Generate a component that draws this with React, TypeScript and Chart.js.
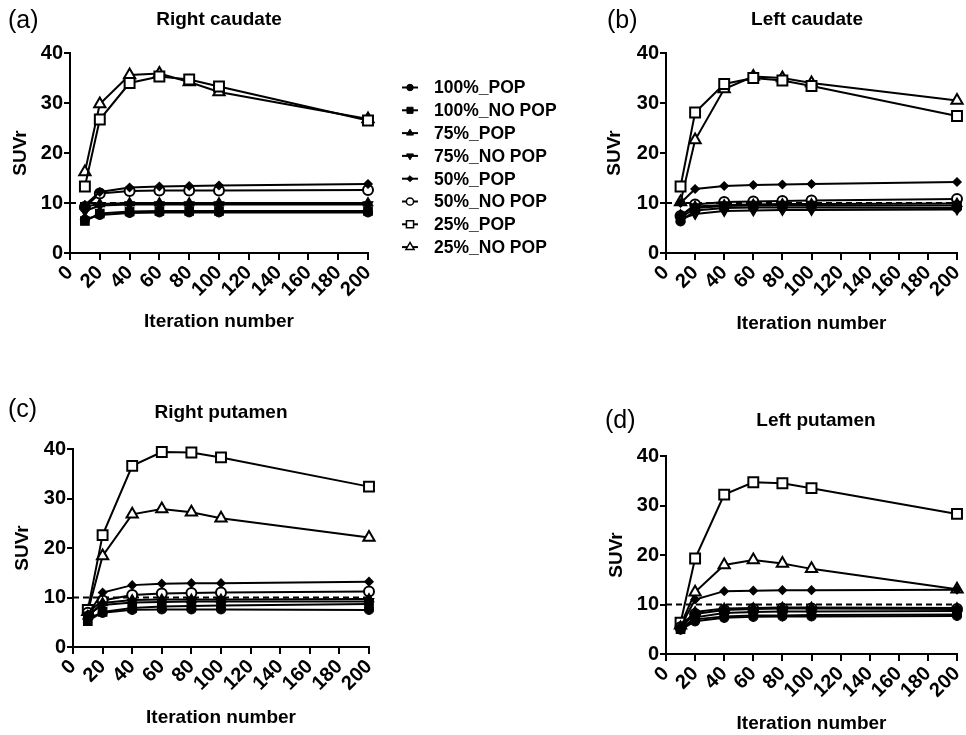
import React, { useEffect, useRef } from "react";
import { Chart, registerables } from "chart.js";
import { drawPoint } from "chart.js/helpers";

Chart.register(...registerables);

// ---------- data ----------
const ITERATIONS = [10, 20, 40, 60, 80, 100, 200];
const SERIES_NAMES = [
  "100%_POP",
  "100%_NO POP",
  "75%_POP",
  "75%_NO POP",
  "50%_POP",
  "50%_NO POP",
  "25%_POP",
  "25%_NO POP",
];
const REFERENCE_LEVEL = 10;
const X_MIN = 0;
const X_MAX = 200;
const X_STEP = 20;
const Y_MIN = 0;
const Y_MAX = 40;
const Y_STEP = 10;

// (a) Right caudate
const RC_100_POP = [6.7, 7.6, 8.0, 8.1, 8.1, 8.1, 8.1];
const RC_100_NOPOP = [6.4, 7.9, 8.3, 8.4, 8.4, 8.4, 8.4];
const RC_75_POP = [9.3, 9.8, 10.0, 10.0, 10.0, 10.0, 10.0];
const RC_75_NOPOP = [8.4, 9.5, 9.7, 9.7, 9.7, 9.7, 9.7];
const RC_50_POP = [9.6, 12.2, 13.1, 13.3, 13.4, 13.5, 13.8];
const RC_50_NOPOP = [9.2, 11.9, 12.4, 12.5, 12.5, 12.5, 12.6];
const RC_25_POP = [13.3, 26.7, 34.0, 35.3, 34.7, 33.3, 26.5];
const RC_25_NOPOP = [16.2, 29.8, 35.6, 35.9, 34.2, 32.2, 26.8];

// (b) Left caudate
const LC_100_POP = [6.3, 8.5, 9.0, 9.1, 9.1, 9.1, 9.0];
const LC_100_NOPOP = [7.0, 9.0, 9.4, 9.5, 9.5, 9.5, 9.5];
const LC_75_POP = [7.6, 9.3, 9.6, 9.7, 9.8, 9.8, 9.9];
const LC_75_NOPOP = [6.8, 7.8, 8.4, 8.5, 8.6, 8.6, 8.7];
const LC_50_POP = [10.0, 12.8, 13.4, 13.6, 13.7, 13.8, 14.2];
const LC_50_NOPOP = [7.4, 9.7, 10.2, 10.3, 10.4, 10.5, 10.8];
const LC_25_POP = [13.3, 28.1, 33.8, 35.0, 34.5, 33.4, 27.4];
const LC_25_NOPOP = [10.2, 22.6, 32.8, 35.3, 35.0, 34.0, 30.5];

// (c) Right putamen
const RP_100_POP = [5.8, 6.9, 7.5, 7.6, 7.6, 7.6, 7.5];
const RP_100_NOPOP = [5.2, 7.1, 7.9, 8.2, 8.3, 8.4, 8.7];
const RP_75_POP = [6.2, 8.9, 9.5, 9.6, 9.6, 9.6, 9.7];
const RP_75_NOPOP = [6.5, 8.5, 9.0, 9.1, 9.2, 9.2, 9.2];
const RP_50_POP = [6.6, 11.0, 12.5, 12.8, 12.9, 12.9, 13.2];
const RP_50_NOPOP = [6.9, 9.4, 10.5, 10.8, 10.9, 11.0, 11.2];
const RP_25_POP = [7.5, 22.6, 36.6, 39.4, 39.3, 38.3, 32.4];
const RP_25_NOPOP = [7.1, 18.4, 26.8, 27.9, 27.2, 26.0, 22.1];

// (d) Left putamen
const LP_100_POP = [4.9, 6.6, 7.3, 7.5, 7.6, 7.6, 7.7];
const LP_100_NOPOP = [5.0, 7.4, 8.3, 8.5, 8.6, 8.6, 8.7];
const LP_75_POP = [5.6, 8.5, 9.2, 9.3, 9.4, 9.4, 9.3];
const LP_75_NOPOP = [5.2, 7.0, 7.6, 7.8, 7.8, 7.9, 8.0];
const LP_50_POP = [5.5, 11.0, 12.7, 12.8, 12.9, 12.9, 13.0];
const LP_50_NOPOP = [5.4, 8.1, 8.9, 9.1, 9.2, 9.2, 9.1];
const LP_25_POP = [6.3, 19.3, 32.2, 34.7, 34.5, 33.5, 28.3];
const LP_25_NOPOP = [5.8, 12.5, 18.0, 19.0, 18.3, 17.2, 13.1];

// ---------- styles ----------
const FONT = "'Liberation Sans', Arial, Helvetica, sans-serif";
const MARKERS = [
  { pointStyle: "circle", radius: 4.5, filled: true, rotation: 0 },
  { pointStyle: "rect", radius: 6, filled: true, rotation: 0 },
  { pointStyle: "triangle", radius: 5.5, filled: true, rotation: 0 },
  { pointStyle: "triangle", radius: 5.5, filled: true, rotation: 180 },
  { pointStyle: "rectRot", radius: 4.2, filled: true, rotation: 0 },
  { pointStyle: "circle", radius: 5, filled: false, rotation: 0 },
  { pointStyle: "rect", radius: 7, filled: false, rotation: 0 },
  { pointStyle: "triangle", radius: 6.5, filled: false, rotation: 0 },
];

type PanelSpec = {
  letter: string;
  title: string;
  series: number[][];
  left: number;
  top: number;
  width: number;
  height: number;
  pad: { left: number; top: number; right: number; bottom: number };
  yAxisWidth: number;
  xAxisHeight: number;
  xTitlePadBottom: number;
  yTitlePadTop: number;
  letterPos: [number, number];
  titlePos: [number, number];
  legend?: { markerX: number; textX: number; firstY: number; step: number };
};

const PANELS: PanelSpec[] = [
  {
    letter: "(a)",
    title: "Right caudate",
    series: [RC_100_POP, RC_100_NOPOP, RC_75_POP, RC_75_NOPOP, RC_50_POP, RC_50_NOPOP, RC_25_POP, RC_25_NOPOP],
    left: 0, top: 0, width: 600, height: 345,
    pad: { left: 0, top: 53, right: 232, bottom: 0 },
    yAxisWidth: 70, xAxisHeight: 92,
    xTitlePadBottom: 11.6, yTitlePadTop: 9.6,
    letterPos: [8, 28], titlePos: [219, 25],
    legend: { markerX: 410, textX: 434, firstY: 87.5, step: 22.8 },
  },
  {
    letter: "(b)",
    title: "Left caudate",
    series: [LC_100_POP, LC_100_NOPOP, LC_75_POP, LC_75_NOPOP, LC_50_POP, LC_50_NOPOP, LC_25_POP, LC_25_NOPOP],
    left: 600, top: 0, width: 366, height: 345,
    pad: { left: 0, top: 53, right: 3, bottom: 0 },
    yAxisWidth: 66, xAxisHeight: 92,
    xTitlePadBottom: 9.6, yTitlePadTop: 3.6,
    letterPos: [7, 28], titlePos: [207, 25],
  },
  {
    letter: "(c)",
    title: "Right putamen",
    series: [RP_100_POP, RP_100_NOPOP, RP_75_POP, RP_75_NOPOP, RP_50_POP, RP_50_NOPOP, RP_25_POP, RP_25_NOPOP],
    left: 0, top: 370, width: 400, height: 365,
    pad: { left: 0, top: 79, right: 31, bottom: 0 },
    yAxisWidth: 73, xAxisHeight: 88,
    xTitlePadBottom: 5.6, yTitlePadTop: 11.6,
    letterPos: [8, 47], titlePos: [221, 48],
  },
  {
    letter: "(d)",
    title: "Left putamen",
    series: [LP_100_POP, LP_100_NOPOP, LP_75_POP, LP_75_NOPOP, LP_50_POP, LP_50_NOPOP, LP_25_POP, LP_25_NOPOP],
    left: 600, top: 370, width: 366, height: 365,
    pad: { left: 0, top: 86, right: 3, bottom: 0 },
    yAxisWidth: 66, xAxisHeight: 81,
    xTitlePadBottom: 0, yTitlePadTop: 5.6,
    letterPos: [5, 58], titlePos: [216, 56],
  },
];

function Panel({ spec }: { spec: PanelSpec }) {
  const ref = useRef<HTMLCanvasElement | null>(null);

  useEffect(() => {
    if (!ref.current) return;

    const datasets: any[] = spec.series.map((vals, i) => {
      const m = MARKERS[i];
      return {
        label: SERIES_NAMES[i],
        data: ITERATIONS.map((x, j) => ({ x, y: vals[j] })),
        borderColor: "#000",
        borderWidth: 2,
        backgroundColor: m.filled ? "#000" : "#fff",
        pointStyle: m.pointStyle,
        pointRadius: m.radius,
        pointRotation: m.rotation,
        pointBorderColor: "#000",
        pointBackgroundColor: m.filled ? "#000" : "#fff",
        pointBorderWidth: m.filled ? 1.2 : 2,
        tension: 0,
        fill: false,
        clip: false,
      };
    });
    datasets.push({
      label: "reference",
      data: [
        { x: X_MIN, y: REFERENCE_LEVEL },
        { x: X_MAX, y: REFERENCE_LEVEL },
      ],
      borderColor: "#000",
      borderWidth: 2,
      borderDash: [6, 4],
      pointRadius: 0,
      fill: false,
      clip: false,
    });

    const textPlugin = {
      id: "panelText",
      afterDraw(chart: any) {
        const ctx = chart.ctx;
        ctx.save();
        ctx.fillStyle = "#000";
        ctx.textBaseline = "alphabetic";
        ctx.textAlign = "left";
        ctx.font = `25px ${FONT}`;
        ctx.fillText(spec.letter, spec.letterPos[0], spec.letterPos[1]);
        ctx.textAlign = "center";
        ctx.font = `bold 19px ${FONT}`;
        ctx.fillText(spec.title, spec.titlePos[0], spec.titlePos[1]);

        if (spec.legend) {
          const lg = spec.legend;
          ctx.font = `bold 17.5px ${FONT}`;
          ctx.textAlign = "left";
          ctx.textBaseline = "middle";
          SERIES_NAMES.forEach((name, i) => {
            const y = lg.firstY + i * lg.step;
            const m = MARKERS[i];
            ctx.strokeStyle = "#000";
            ctx.lineWidth = 2;
            ctx.setLineDash([]);
            ctx.beginPath();
            ctx.moveTo(lg.markerX - 8, y);
            ctx.lineTo(lg.markerX + 8, y);
            ctx.stroke();
            ctx.fillStyle = m.filled ? "#000" : "#fff";
            ctx.lineWidth = m.filled ? 1 : 1.5;
            drawPoint(
              ctx,
              {
                pointStyle: m.pointStyle as any,
                radius: m.radius * 0.72,
                rotation: m.rotation,
                borderWidth: m.filled ? 1 : 1.5,
              } as any,
              lg.markerX,
              y
            );
            ctx.fillStyle = "#000";
            ctx.fillText(name, lg.textX, y + 1);
          });
        }
        ctx.restore();
      },
    };

    const tickFont = { family: FONT, size: 20, weight: "bold" as const };
    const titleFont = { family: FONT, size: 19, weight: "bold" as const };

    const chart = new Chart(ref.current, {
      type: "line",
      data: { datasets },
      options: {
        animation: false,
        responsive: false,
        devicePixelRatio: 1,
        layout: { padding: spec.pad },
        plugins: {
          legend: { display: false },
          tooltip: { enabled: false },
          title: { display: false },
        },
        scales: {
          x: {
            type: "linear",
            min: X_MIN,
            max: X_MAX,
            ticks: {
              stepSize: X_STEP,
              autoSkip: false,
              minRotation: 45,
              maxRotation: 45,
              color: "#000",
              font: tickFont,
              padding: 1,
            },
            grid: {
              drawOnChartArea: false,
              drawTicks: true,
              tickLength: 7,
              color: "#000",
              lineWidth: 2,
            },
            border: { display: true, color: "#000", width: 2 },
            title: {
              display: true,
              text: "Iteration number",
              color: "#000",
              font: titleFont,
              padding: { top: 0, bottom: spec.xTitlePadBottom },
            },
            afterFit: (s: any) => {
              s.height = spec.xAxisHeight;
              s.paddingLeft = 0;
              s.paddingRight = 0;
            },
          },
          y: {
            type: "linear",
            min: Y_MIN,
            max: Y_MAX,
            ticks: {
              stepSize: Y_STEP,
              color: "#000",
              font: tickFont,
              padding: 1,
            },
            grid: {
              drawOnChartArea: false,
              drawTicks: true,
              tickLength: 6,
              color: "#000",
              lineWidth: 2,
            },
            border: { display: true, color: "#000", width: 2 },
            title: {
              display: true,
              text: "SUVr",
              color: "#000",
              font: titleFont,
              padding: { top: spec.yTitlePadTop, bottom: 0 },
            },
            afterFit: (s: any) => {
              s.width = spec.yAxisWidth;
              s.paddingTop = 0;
              s.paddingBottom = 0;
            },
          },
        },
      },
      plugins: [textPlugin],
    } as any);

    return () => chart.destroy();
  }, [spec]);

  return (
    <canvas
      ref={ref}
      width={spec.width}
      height={spec.height}
      style={{
        position: "absolute",
        left: spec.left,
        top: spec.top,
        width: spec.width,
        height: spec.height,
      }}
    />
  );
}

export default function App() {
  return (
    <div
      style={{
        position: "absolute",
        left: 0,
        top: 0,
        width: 966,
        height: 735,
        background: "#fff",
        overflow: "hidden",
      }}
    >
      {PANELS.map((p) => (
        <Panel key={p.letter} spec={p} />
      ))}
    </div>
  );
}
